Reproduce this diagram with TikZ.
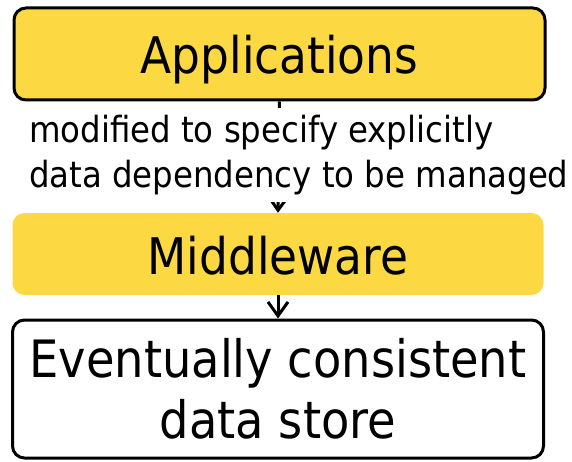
\documentclass[tikz,border=0pt]{standalone}
\usepackage{fontspec}
\setmainfont{DejaVu Sans Condensed}
\usetikzlibrary{arrows.meta}
\definecolor{boxyellow}{RGB}{252,217,66}
\tikzset{
  layer/.style={rounded corners=12pt, minimum width=531pt, inner sep=0pt, align=center},
  linkarrow/.style={draw=black, line width=3pt, arrows={-Straight Barb[length=14pt,width=20pt,line width=3pt]}},
}
\begin{document}
\begin{tikzpicture}[x=1pt,y=1pt]
\useasboundingbox (0,0) rectangle (572,461);
% three stacked layers
\node[layer, draw, line width=3pt, fill=boxyellow, minimum height=92pt, text depth=0pt,
      font=\fontsize{50.5}{60}\selectfont] (app) at (279.5,407) {Applications};
\node[layer, fill=boxyellow, minimum height=82pt, text depth=0pt,
      font=\fontsize{50.5}{60}\selectfont] (mid) at (278,207) {\raisebox{-3pt}{Middleware}};
\node[layer, draw, line width=3pt, fill=white, minimum height=138pt,
      font=\fontsize{51.5}{61}\selectfont] (store) at (278,72)
      {Eventually consistent\\data store};
% connectors
\path[linkarrow] (app.south) -- (mid.north);
\path[linkarrow] (mid.south) -- (store.north);
% annotation over the first connector
\node[fill=white, inner xsep=1pt, inner ysep=7pt, align=left, anchor=north west,
      font=\fontsize{36}{45}\selectfont] (note) at (28,353)
      {modified to specify explicitly\\data dependency to be managed};
\end{tikzpicture}
\end{document}
